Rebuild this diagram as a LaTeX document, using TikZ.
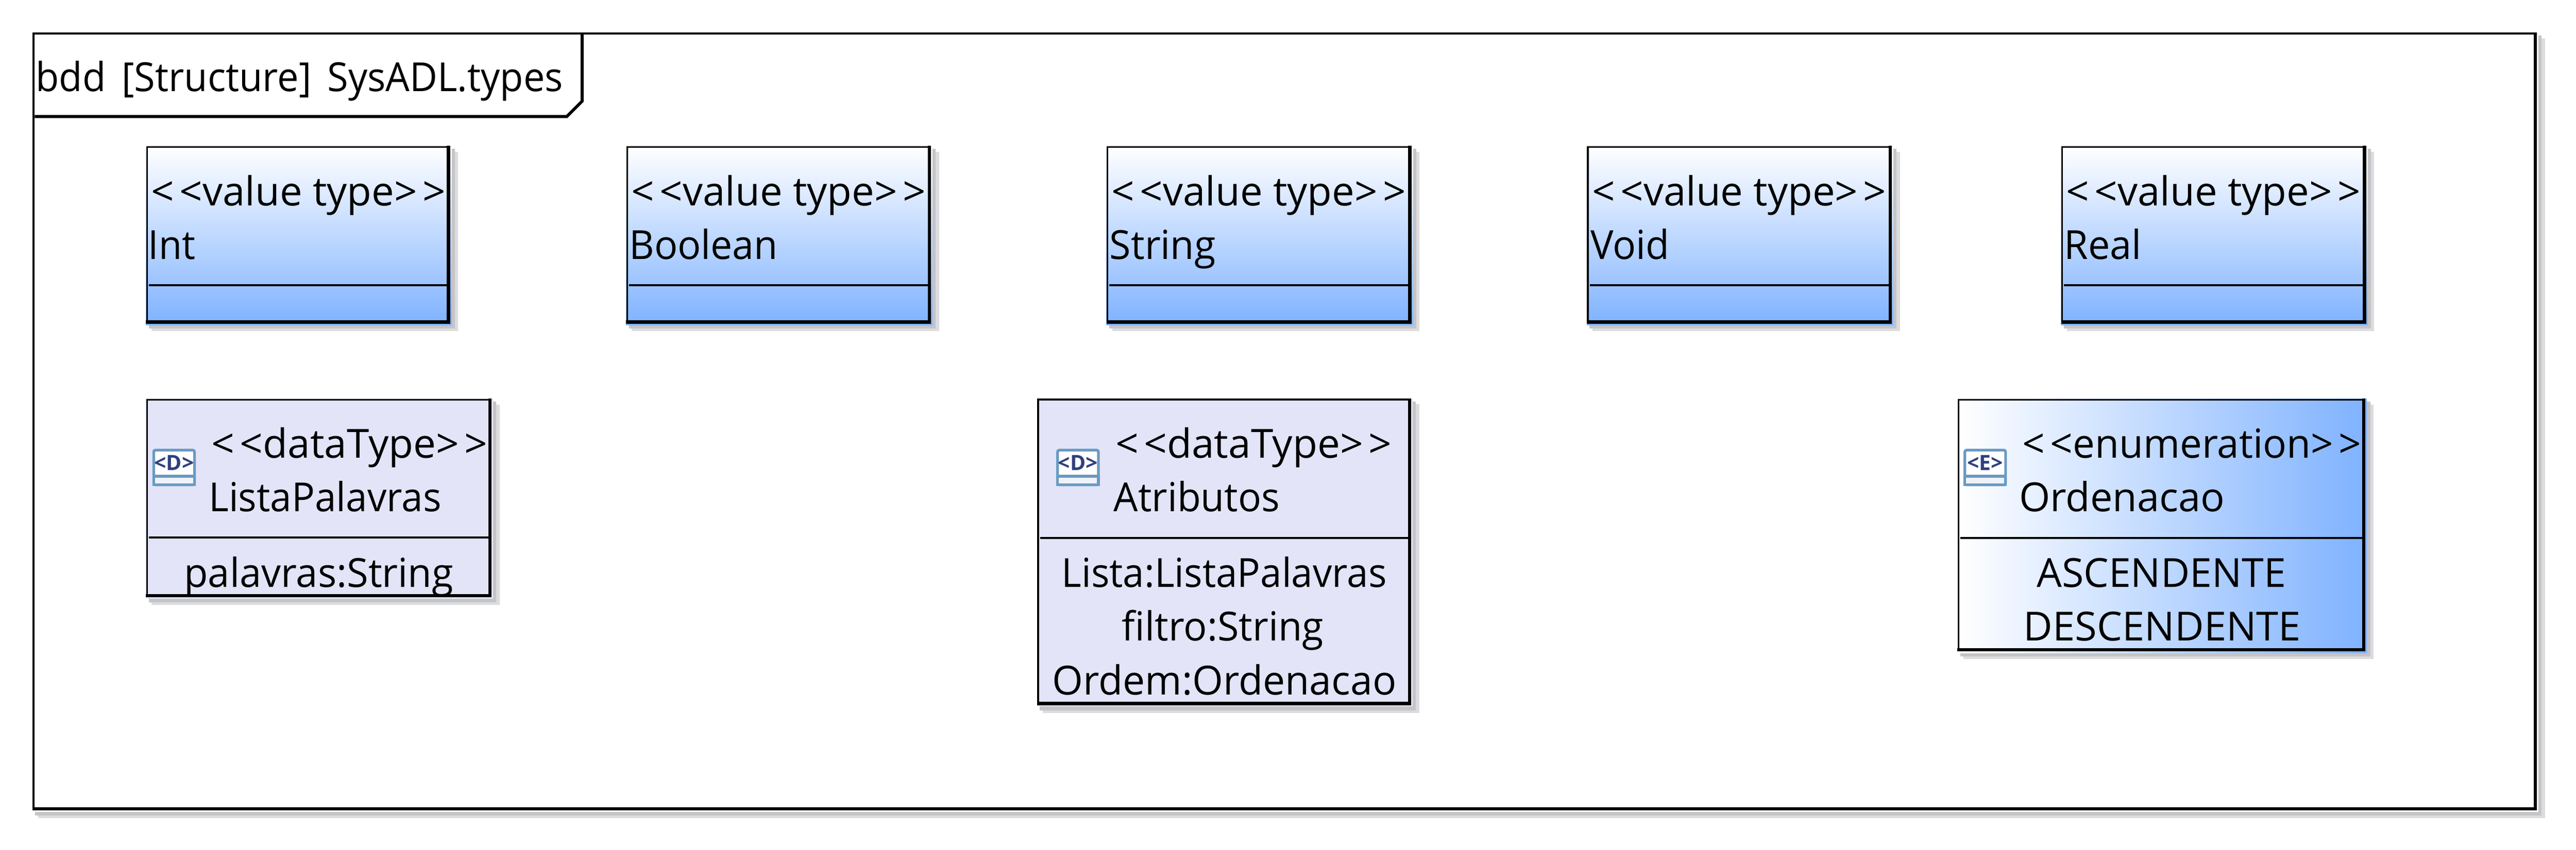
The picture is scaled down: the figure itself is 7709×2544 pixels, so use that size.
\documentclass[tikz,border=0pt]{standalone}
\usepackage{graphicx}
\usepackage{fontspec}
\newfontfamily\uifont{Open Sans}
\definecolor{gradend}{HTML}{7FB2FF}
\definecolor{dtfill}{HTML}{E3E4F8}
\definecolor{shdarkc}{HTML}{C5C4C7}
\definecolor{shlightc}{HTML}{DCDCDF}
\definecolor{iconedge}{HTML}{6A9AC2}
\definecolor{iconband}{HTML}{EEF3F9}
\definecolor{iconink}{HTML}{2F3F7F}
\newsavebox\fitbox
\newcommand\fitw[2]{\sbox\fitbox{\uifont\fontsize{12}{14}\selectfont #2}%
  \pgfmathsetmacro\fitr{0.1*#1/\the\wd\fitbox}\scalebox{\fitr}[1]{\usebox\fitbox}}
\newcommand\opn{<\kern1.6pt<}
\newcommand\cls{>\kern1.6pt>}
\tikzset{
  lbl/.style={inner sep=0pt,outer sep=0pt,anchor=base west,text=black},
  vtfill/.style={top color=white,bottom color=gradend,middle color=white!50!gradend},
  dtbody/.style={fill=dtfill},
  enfill/.style={left color=white,right color=gradend,middle color=white!50!gradend},
  framefill/.style={fill=white},
  shlight/.style={fill=shlightc},
  shdark/.style={fill=shdarkc},
  thinedge/.style={draw=black,line width=0.55pt,line cap=butt},
  thickedge/.style={draw=black,line width=1pt,line cap=butt},
  iconbox/.style={draw=iconedge,line width=0.8pt,fill=white,rounded corners=0.5pt,anchor=north west,inner sep=0pt,outer sep=0pt,minimum width=12.2pt,minimum height=10.4pt},
  iconbar/.style={draw=iconedge,line width=0.8pt,fill=iconband},
  iconglyph/.style={inner sep=0pt,text=iconink,font=\uifont\bfseries\fontsize{6.3}{7}\selectfont},
}
% name, x0, y0, x1, y1, style
\newcommand\shell[6]{%
  \fill[shlight] (#2+17,#3+18) rectangle (#4+24,#5+23);
  \fill[shdark] (#2+8,#3+9) rectangle (#4+14,#5+15);
  \node[#6,anchor=north west,inner sep=0pt,outer sep=0pt,minimum width={(#4+4-#2)*0.1pt},minimum height={(#5+4-#3)*0.1pt}] (#1) at (#2,#3) {};
  \draw[thinedge] (#2+3,#5) -- (#2+3,#3+3) -- (#4,#3+3);
  \draw[thickedge] (#4-5,#3) -- (#4-5,#5);
  \draw[thickedge] (#2,#5-5) -- (#4,#5-5);
}
\newcommand\divider[3]{\draw[thinedge] (#1+9,#3) -- (#2-10,#3);}
\newcommand\umlicon[4]{%
  \node[iconbox] (#1) at (#2,#3) {};
  \path[iconbar] (#2,#3+78) rectangle (#2+122,#3+104);
  \node[iconglyph] (#1t) at (#2+61,#3+38) {<#4>};
}
\begin{document}
\begin{tikzpicture}[x=0.1pt,y=-0.1pt]
\useasboundingbox (0,0) rectangle (7709,2544);
\fill[white] (0,0) rectangle (7709,2544);

% frame
\shell{frame}{97}{97}{7592}{2427}{framefill}
\coordinate (tabA) at (104,349);
\coordinate (tabB) at (1696,349);
\coordinate (tabC) at (1742,303);
\coordinate (tabD) at (1742,100);
\draw[line width=0.9pt] (tabA) -- (tabB) -- (tabC) -- (tabD);
\node[lbl] (title) at (107,274) {\fitw{1578}{bdd\hspace{0.42em}[Structure]\hspace{0.42em}SysADL.types}};

% value types
\shell{int}{437}{437}{1347}{969}{vtfill}
\divider{437}{1347}{854}
\node[lbl] (intS) at (453,616) {\fitw{880}{\opn value type\cls}};
\node[lbl] (intN) at (444,776) {\fitw{141}{Int}};

\shell{bool}{1874}{437}{2786}{969}{vtfill}
\divider{1874}{2786}{854}
\node[lbl] (boolS) at (1890,616) {\fitw{880}{\opn value type\cls}};
\node[lbl] (boolN) at (1883,776) {\fitw{445}{Boolean}};

\shell{str}{3311}{437}{4224}{969}{vtfill}
\divider{3311}{4224}{854}
\node[lbl] (strS) at (3327,616) {\fitw{880}{\opn value type\cls}};
\node[lbl] (strN) at (3321,776) {\fitw{317}{String}};

\shell{void}{4749}{437}{5662}{969}{vtfill}
\divider{4749}{5662}{854}
\node[lbl] (voidS) at (4765,616) {\fitw{880}{\opn value type\cls}};
\node[lbl] (voidN) at (4760,776) {\fitw{236}{Void}};

\shell{real}{6168}{437}{7081}{969}{vtfill}
\divider{6168}{7081}{854}
\node[lbl] (realS) at (6184,616) {\fitw{880}{\opn value type\cls}};
\node[lbl] (realN) at (6177,776) {\fitw{232}{Real}};

% data types
\shell{lista}{437}{1194}{1471}{1789}{dtbody}
\divider{437}{1471}{1610}
\umlicon{listaI}{460}{1348}{D}
\node[lbl] (listaS) at (633,1371) {\fitw{826}{\opn dataType\cls}};
\node[lbl] (listaN) at (625,1532) {\fitw{696}{ListaPalavras}};
\node[lbl] (listaA) at (551,1759) {\fitw{806}{palavras:String}};

\shell{atrib}{3104}{1193}{4223}{2112}{dtbody}
\divider{3104}{4223}{1611}
\umlicon{atribI}{3165}{1348}{D}
\node[lbl] (atribS) at (3338,1372) {\fitw{827}{\opn dataType\cls}};
\node[lbl] (atribN) at (3333,1532) {\fitw{497}{Atributos}};
\node[lbl] (atribA) at (3177,1758) {\fitw{973}{Lista:ListaPalavras}};
\node[lbl] (atribB) at (3358,1919) {\fitw{603}{filtro:String}};
\node[lbl] (atribC) at (3149,2080) {\fitw{1030}{Ordem:Ordenacao}};

% enumeration
\shell{enum}{5858}{1194}{7079}{1951}{enfill}
\divider{5858}{7079}{1611}
\umlicon{enumI}{5880}{1348}{E}
\node[lbl] (enumS) at (6053,1371) {\fitw{1013}{\opn enumeration\cls}};
\node[lbl] (enumN) at (6043,1532) {\fitw{615}{Ordenacao}};
\node[lbl] (enumA) at (6095,1759) {\fitw{746}{ASCENDENTE}};
\node[lbl] (enumB) at (6056,1919) {\fitw{830}{DESCENDENTE}};
\end{tikzpicture}
\end{document}
